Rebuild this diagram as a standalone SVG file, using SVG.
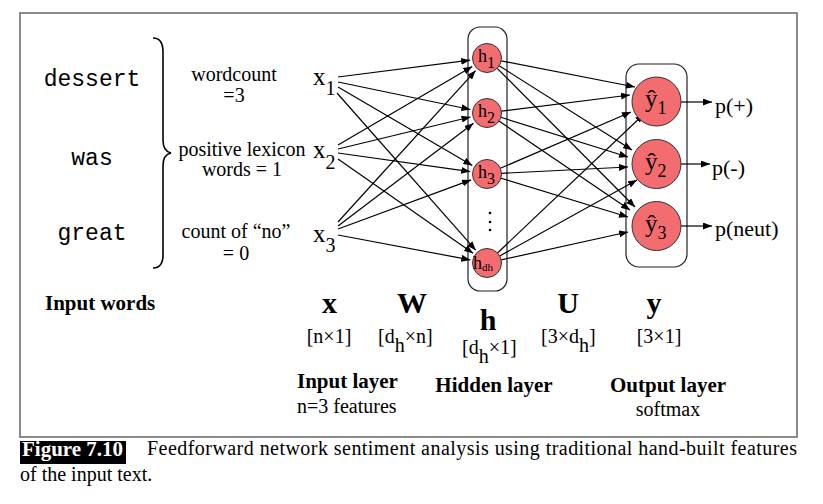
<svg xmlns="http://www.w3.org/2000/svg" width="823" height="504" viewBox="0 0 823 504">
<defs>
<marker id="ah" markerUnits="userSpaceOnUse" markerWidth="9" markerHeight="7" refX="9" refY="3.5" orient="auto">
<path d="M0,0 L9,3.5 L0,7 z" fill="#000"/>
</marker>
<style>
.serif{font-family:"Liberation Serif","Times New Roman",serif;fill:#000}
.mono{font-family:"Liberation Mono","Courier New",monospace;font-size:23px;fill:#000}
.feat{font-size:20px;text-anchor:middle}
.bold{font-weight:bold}
.node{fill:#F36C70;stroke:#333;stroke-width:1}
.layer{fill:none;stroke:#222;stroke-width:1.2}
.conn line{stroke:#000;stroke-width:1.2;marker-end:url(#ah)}
</style>
</defs>
<rect x="0" y="0" width="823" height="504" fill="#fff"/>
<rect id="frame" x="20" y="13" width="777" height="424" fill="#fff" stroke="#666" stroke-width="1.5"/>

<g id="input-words" class="mono">
<text x="92" y="86" text-anchor="middle">dessert</text>
<text x="92" y="165" text-anchor="middle">was</text>
<text x="92" y="240" text-anchor="middle">great</text>
</g>
<path id="brace" d="M153,38 C160,38 163,43 163,52 L163,140 C163,148 166,152 171,153 C166,154 163,158 163,166 L163,255 C163,263 160,268 153,268" fill="none" stroke="#000" stroke-width="1.6"/>

<g id="features" class="serif feat">
<text x="234" y="81">wordcount</text>
<text x="234" y="102">=3</text>
<text x="242" y="156">positive lexicon</text>
<text x="242" y="176">words = 1</text>
<text x="236" y="238">count of “no”</text>
<text x="236" y="260">= 0</text>
</g>

<g id="layer-boxes">
<rect x="468" y="27" width="39" height="264" rx="12" class="layer"/>
<rect x="626" y="64" width="61" height="203" rx="13" class="layer"/>
</g>

<g id="connectors" class="conn">
<line x1="338" y1="77" x2="470.1" y2="60.2"/>
<line x1="338" y1="145" x2="472.3" y2="66.6"/>
<line x1="338" y1="222" x2="475.6" y2="70.6"/>
<line x1="338" y1="82" x2="470.4" y2="109.5"/>
<line x1="338" y1="149" x2="470.5" y2="117"/>
<line x1="338" y1="226" x2="473.5" y2="123.3"/>
<line x1="338" y1="87" x2="472.3" y2="165.4"/>
<line x1="338" y1="153" x2="470.2" y2="171.6"/>
<line x1="338" y1="229" x2="471.1" y2="179.9"/>
<line x1="337" y1="93" x2="475.7" y2="250.2"/>
<line x1="338" y1="159" x2="473.1" y2="253.3"/>
<line x1="338" y1="235" x2="470.3" y2="259.9"/>

<line x1="501.2" y1="60.8" x2="635" y2="87"/>
<line x1="499.2" y1="65.8" x2="632" y2="150"/>
<line x1="497.2" y1="68.3" x2="635" y2="207"/>
<line x1="501.4" y1="111.2" x2="630" y2="95"/>
<line x1="500.8" y1="117.3" x2="628" y2="157"/>
<line x1="499" y1="121.1" x2="630" y2="210"/>
<line x1="500.3" y1="168.3" x2="631" y2="112"/>
<line x1="501.5" y1="173.3" x2="628" y2="167"/>
<line x1="500.9" y1="178.2" x2="628" y2="217"/>
<line x1="497.5" y1="253" x2="644" y2="114"/>
<line x1="499.7" y1="256" x2="637" y2="180"/>
<line x1="501.2" y1="259.9" x2="628" y2="232"/>

<line x1="681" y1="102" x2="712" y2="102"/>
<line x1="681" y1="164" x2="710" y2="164"/>
<line x1="681" y1="226" x2="712" y2="226"/>
</g>

<g id="x1" class="serif"><text x="313" y="85" font-size="25">x<tspan dy="10" font-size="20">1</tspan></text></g>
<g id="x2" class="serif"><text x="313" y="158" font-size="25">x<tspan dy="11" font-size="20">2</tspan></text></g>
<g id="x3" class="serif"><text x="313" y="242" font-size="25">x<tspan dy="10" font-size="20">3</tspan></text></g>

<g id="h1"><circle cx="487" cy="58" r="14.5" class="node"/><text x="478" y="62" class="serif" font-size="18">h<tspan dy="6" font-size="16">1</tspan></text></g>
<g id="h2"><circle cx="487" cy="113" r="14.5" class="node"/><text x="478" y="117" class="serif" font-size="18">h<tspan dy="6" font-size="16">2</tspan></text></g>
<g id="h3"><circle cx="487" cy="174" r="14.5" class="node"/><text x="478" y="178" class="serif" font-size="18">h<tspan dy="6" font-size="16">3</tspan></text></g>
<g id="dots" fill="#000"><circle cx="490" cy="213" r="1.3"/><circle cx="490" cy="222" r="1.3"/><circle cx="490" cy="230" r="1.3"/></g>
<g id="hdh"><circle cx="487" cy="263" r="14.5" class="node"/><text x="473" y="269" class="serif" font-size="18">h<tspan dy="2" font-size="11">dh</tspan></text></g>

<g id="y1"><circle cx="656.5" cy="101.5" r="24.5" class="node"/><text x="645" y="107" class="serif" font-size="25">ŷ<tspan dy="7" font-size="18">1</tspan></text></g>
<g id="y2"><circle cx="656.5" cy="164" r="24.5" class="node"/><text x="645" y="170" class="serif" font-size="25">ŷ<tspan dy="7" font-size="18">2</tspan></text></g>
<g id="y3"><circle cx="656.5" cy="226" r="24.5" class="node"/><text x="645" y="232" class="serif" font-size="25">ŷ<tspan dy="7" font-size="18">3</tspan></text></g>

<g id="outputs" class="serif" font-size="22">
<text x="715" y="113">p(+)</text>
<text x="712" y="175">p(-)</text>
<text x="715" y="236">p(neut)</text>
</g>

<g id="labels" class="serif">
<text x="45" y="310" class="bold" font-size="21">Input words</text>
<text x="329.5" y="313" class="bold" font-size="30" text-anchor="middle">x</text>
<text x="412" y="313" class="bold" font-size="30" text-anchor="middle">W</text>
<text x="488" y="330" class="bold" font-size="30" text-anchor="middle">h</text>
<text x="568" y="313" class="bold" font-size="30" text-anchor="middle">U</text>
<text x="654" y="313" class="bold" font-size="30" text-anchor="middle">y</text>
<text x="329" y="343" font-size="20" text-anchor="middle">[n×1]</text>
<text x="378" y="343" font-size="20">[d<tspan dy="9">h</tspan><tspan dy="-9">×n]</tspan></text>
<text x="462" y="354" font-size="20">[d<tspan dy="9">h</tspan><tspan dy="-9">×1]</tspan></text>
<text x="541" y="343" font-size="20">[3×d<tspan dy="9">h</tspan><tspan dy="-9">]</tspan></text>
<text x="659" y="343" font-size="20" text-anchor="middle">[3×1]</text>
<text x="297" y="388" class="bold" font-size="21">Input layer</text>
<text x="297" y="413" font-size="20">n=3 features</text>
<text x="494" y="392" class="bold" font-size="21" text-anchor="middle">Hidden layer</text>
<text x="668" y="392" class="bold" font-size="21" text-anchor="middle">Output layer</text>
<text x="668" y="416" font-size="20" text-anchor="middle">softmax</text>
</g>

<g id="caption" class="serif" font-size="20">
<rect x="20" y="441" width="106" height="23" fill="#000"/>
<text x="22" y="456" class="bold" style="fill:#fff" textLength="101" lengthAdjust="spacingAndGlyphs">Figure 7.10</text>
<text x="147" y="455" textLength="650" lengthAdjust="spacing">Feedforward network sentiment analysis using traditional hand-built features</text>
<text x="20" y="481">of the input text.</text>
</g>
</svg>
